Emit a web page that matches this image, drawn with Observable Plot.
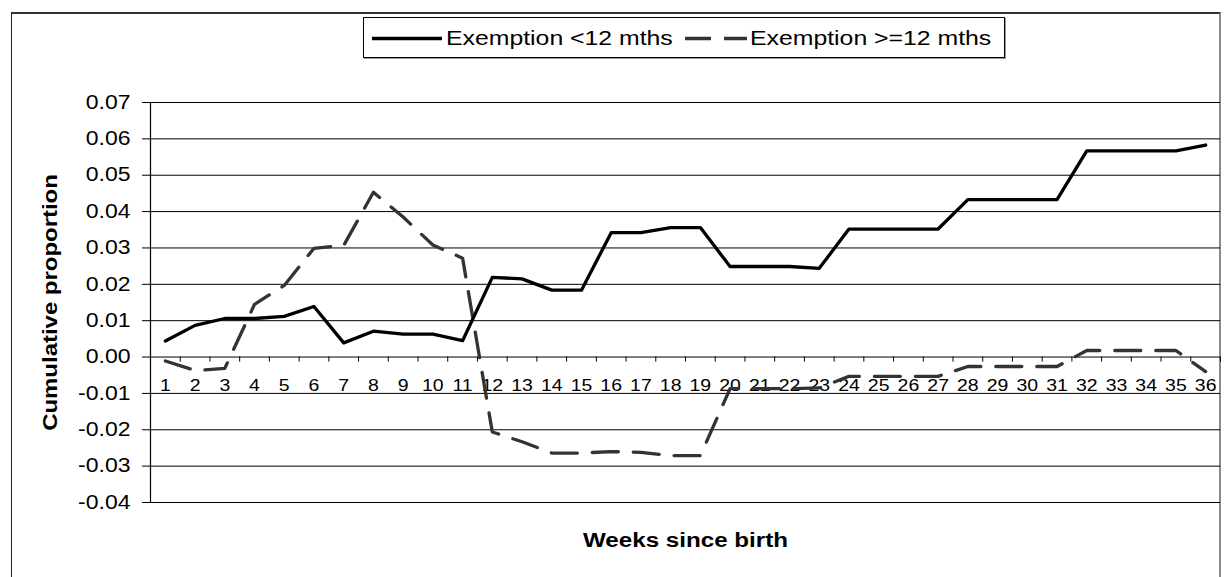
<!DOCTYPE html>
<html>
<head>
<meta charset="utf-8">
<script src="https://cdn.jsdelivr.net/npm/d3@7"></script>
<script src="https://cdn.jsdelivr.net/npm/@observablehq/plot@0.6"></script>
<style>
  html, body { margin: 0; padding: 0; background: #fff; }
  #wrap { position: relative; width: 1225px; height: 577px; overflow: hidden; font-family: "Liberation Sans", Arial, sans-serif; }
  #frame { position: absolute; left: 11px; top: 12px; width: 1210px; height: 600px;
           border-top: 2px solid #333; border-left: 1.5px solid #222; border-right: 2px solid #8a8a8a; box-sizing: border-box; }
  #chart { position: absolute; left: 0; top: 0; }
  #legend { position: absolute; left: 363px; top: 17px; width: 642px; height: 41px; border: 1px solid #000;
            box-shadow: 1px 1px 0 #999; background: #fff; box-sizing: border-box; }
  #legend .lab { position: absolute; top: 8px; font-size: 20px; line-height: 24px; white-space: nowrap;
                 transform: scaleX(1.24); transform-origin: left center; color: #000; }
  #legend svg { position: absolute; left: 0; top: 0; }
</style>
</head>
<body>
<div id="wrap">
  <div id="frame"></div>
  <div id="chart"></div>
  <div id="legend"></div>
</div>
<script>
const weeks = [1,2,3,4,5,6,7,8,9,10,11,12,13,14,15,16,17,18,19,20,21,22,23,24,25,26,27,28,29,30,31,32,33,34,35,36];
const exemptionLt12 = [0.0044,0.0087,0.0106,0.0106,0.0112,0.0139,0.0039,0.0071,0.0063,0.0063,0.0045,0.0219,0.0215,0.0184,0.0184,0.0342,0.0342,0.0356,0.0356,0.0249,0.0249,0.0249,0.0244,0.0352,0.0352,0.0352,0.0352,0.0433,0.0433,0.0433,0.0433,0.0567,0.0567,0.0567,0.0567,0.0583];
const exemptionGe12 = [-0.0011,-0.0037,-0.0031,0.0145,0.0197,0.0299,0.0307,0.0453,0.0385,0.0308,0.0272,-0.0206,-0.0233,-0.0264,-0.0264,-0.0260,-0.0262,-0.0271,-0.0271,-0.0087,-0.0087,-0.0087,-0.0085,-0.0053,-0.0053,-0.0053,-0.0053,-0.0026,-0.0026,-0.0026,-0.0026,0.0018,0.0018,0.0018,0.0018,-0.0040];
const seriesNames = ["Exemption <12 mths", "Exemption >=12 mths"];
const yTicks = [-0.04,-0.03,-0.02,-0.01,0,0.01,0.02,0.03,0.04,0.05,0.06,0.07];
const xTitle = "Weeks since birth";
const yTitle = "Cumulative proportion";

const dataLt = weeks.map((w, i) => ({week: w, value: exemptionLt12[i]}));
const dataGe = weeks.map((w, i) => ({week: w, value: exemptionGe12[i]}));
const boundaries = [weeks[0] - 0.5, ...weeks.map(w => w + 0.5)];

const STRETCH = 1.18;

const chart = Plot.plot({
  width: 1225,
  height: 577,
  marginLeft: 150,
  marginRight: 5,
  marginTop: 102,
  marginBottom: 75,
  style: {background: "transparent", fontFamily: "Liberation Sans, Arial, sans-serif", overflow: "visible"},
  x: {type: "linear", domain: [weeks[0] - 0.5, weeks[weeks.length - 1] + 0.5], axis: null},
  y: {type: "linear", domain: [yTicks[0], yTicks[yTicks.length - 1]], axis: null},
  marks: [
    Plot.ruleY(yTicks, {stroke: "#000", strokeWidth: 1}),
    Plot.ruleX([weeks[0] - 0.5], {stroke: "#000", strokeWidth: 1.2}),
    Plot.ruleX(boundaries, {y1: 0, y2: -0.0014, stroke: "#000", strokeWidth: 1}),
    Plot.axisY(yTicks, {tickFormat: d => d.toFixed(2), tickSize: 8, tickPadding: 12, fontSize: 19.5, stroke: "#000", color: "#000", label: null}),
    Plot.text(weeks, {x: d => d, y: 0, text: d => String(d), dy: 29, fontSize: 16.5, fill: "#000"}),
    Plot.line(dataGe, {x: "week", y: "value", stroke: "#333", strokeWidth: 3.3, strokeDasharray: "26,15"}),
    Plot.line(dataLt, {x: "week", y: "value", stroke: "#000", strokeWidth: 3.3}),
    Plot.text([yTitle], {frameAnchor: "left", textAnchor: "middle", lineAnchor: "middle", dx: -100, rotate: -90, fontSize: 20.3, fontWeight: "bold", fill: "#000"}),
    Plot.text([xTitle], {frameAnchor: "bottom", textAnchor: "middle", lineAnchor: "middle", dy: 38, fontSize: 20.5, fontWeight: "bold", fill: "#000"})
  ]
});

// stretch text horizontally along its baseline to mimic the wide rendering of the original
chart.querySelectorAll("text").forEach(t => {
  const tr = t.getAttribute("transform");
  if (tr) {
    t.setAttribute("transform", tr + ` scale(${STRETCH},1)`);
  } else {
    const x = +(t.getAttribute("x") || 0);
    t.setAttribute("transform", `translate(${x},0) scale(${STRETCH},1) translate(${-x},0)`);
  }
});
document.getElementById("chart").appendChild(chart);

// legend
const legend = document.getElementById("legend");
const ns = "http://www.w3.org/2000/svg";
const lsvg = document.createElementNS(ns, "svg");
lsvg.setAttribute("width", 642);
lsvg.setAttribute("height", 41);
const samples = [
  {x1: 8, x2: 78, stroke: "#000", dash: null},
  {x1: 321, x2: 383, stroke: "#333", dash: "26,13"}
];
samples.forEach(s => {
  const l = document.createElementNS(ns, "line");
  l.setAttribute("x1", s.x1); l.setAttribute("x2", s.x2);
  l.setAttribute("y1", 20.5); l.setAttribute("y2", 20.5);
  l.setAttribute("stroke", s.stroke); l.setAttribute("stroke-width", 3.3);
  if (s.dash) l.setAttribute("stroke-dasharray", s.dash);
  lsvg.appendChild(l);
});
legend.appendChild(lsvg);
const labelLefts = [82, 386];
seriesNames.forEach((n, i) => {
  const s = document.createElement("span");
  s.className = "lab";
  s.style.left = labelLefts[i] + "px";
  s.textContent = n;
  legend.appendChild(s);
});
</script>
</body>
</html>
